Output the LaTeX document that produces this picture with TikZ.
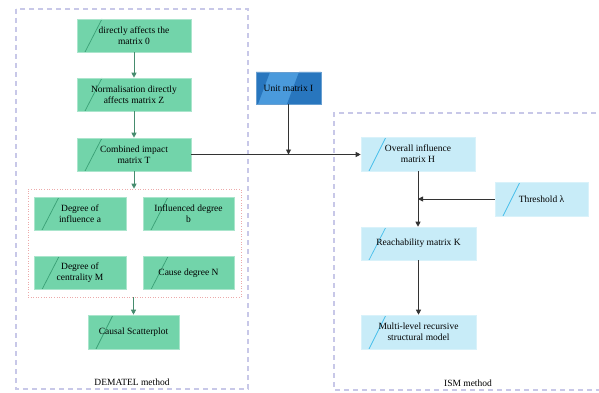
\documentclass[tikz,border=0pt]{standalone}
\usepackage{fontspec}
\setmainfont{Liberation Serif}
\usetikzlibrary{arrows.meta,calc}
\definecolor{gfill}{RGB}{114,212,170}
\definecolor{gline}{RGB}{58,160,118}
\definecolor{garrow}{RGB}{70,140,110}
\definecolor{bfill}{RGB}{74,154,220}
\definecolor{bdark}{RGB}{40,118,190}
\definecolor{cfill}{RGB}{200,236,248}
\definecolor{cline}{RGB}{70,190,235}
\definecolor{lav}{RGB}{200,200,232}
\definecolor{pinkdot}{RGB}{236,170,170}
\begin{document}
\begin{tikzpicture}[x=1pt,y=-1pt,
  font=\fontsize{9.5}{11}\selectfont,
  gbox/.style={draw=gfill!60!white,line width=0.6pt,fill=gfill,minimum height=33pt,align=center,inner sep=1pt,
    path picture={\draw[gline,line width=0.7pt] ([xshift=8pt]path picture bounding box.south west) -- ([xshift=25pt]path picture bounding box.north west);}},
  cbox/.style={draw=cfill!70!white,line width=0.6pt,fill=cfill,minimum height=33pt,align=center,inner sep=1pt,
    path picture={\draw[cline,line width=0.7pt] ([xshift=8pt]path picture bounding box.south west) -- ([xshift=25pt]path picture bounding box.north west);}},
  bbox/.style={draw=bdark!70!white,line width=0.6pt,fill=bfill,minimum height=32pt,align=center,inner sep=1pt,
    path picture={
      \fill[bdark] (path picture bounding box.north west) -- ([xshift=14pt]path picture bounding box.north west) -- ([xshift=2pt]path picture bounding box.south west) -- (path picture bounding box.south west) -- cycle;
      \fill[bdark] (path picture bounding box.north east) -- ([xshift=-22pt]path picture bounding box.north east) -- ([xshift=-34pt]path picture bounding box.south east) -- (path picture bounding box.south east) -- cycle;}},
  container/.style={draw=lav,line width=1.1pt,dash pattern=on 5pt off 4pt},
  garr/.style={draw=garrow,line width=0.9pt,-{Triangle[length=5pt,width=5pt]}},
  karr/.style={draw=black!80,line width=0.9pt,-{Triangle[length=5pt,width=5pt]}}
]
\useasboundingbox (0,0) rectangle (599,393);
\fill[white] (0,0) rectangle (599,393);
% containers
\draw[container] (16,9) rectangle (248,389);
\draw[container] (605,113) -- (334,113) -- (334,390) -- (605,390);
\node (demlabel) at (132,382) {DEMATEL method};
\node (ismlabel) at (468,383) {ISM method};
% DEMATEL nodes
\node[gbox,minimum width=114pt] (b1) at (134,35.5) {directly affects the\\matrix 0};
\node[gbox,minimum width=114pt] (b2) at (134,94.5) {Normalisation directly\\affects matrix Z};
\node[gbox,minimum width=114pt] (b3) at (134,154.5) {Combined impact\\matrix T};
\node[draw=pinkdot,dotted,line width=0.6pt,minimum width=213pt,minimum height=108pt,inner sep=0pt] (grp) at (134.5,243) {};
\node[gbox,minimum width=92pt] (ba) at (80,213.5) {Degree of\\influence a};
\node[gbox,minimum width=91pt] (bb) at (188.5,213.5) {Influenced degree\\b};
\node[gbox,minimum width=92pt] (bm) at (80,273) {Degree of\\centrality M};
\node[gbox,minimum width=91pt] (bn) at (188.5,273) {Cause degree N};
\node[gbox,minimum width=91pt,minimum height=34pt] (bc) at (133.5,332) {Causal Scatterplot};
% Unit matrix
\node[bbox,minimum width=65pt] (unit) at (288.5,88) {Unit matrix I};
% ISM nodes
\node[cbox,minimum width=114pt,minimum height=34pt] (oh) at (418,154) {Overall influence\\matrix H};
\node[cbox,minimum width=93pt,minimum height=34pt] (th) at (541.5,199) {Threshold \symbol{"03BB}};
\node[cbox,minimum width=115pt] (rk) at (418.5,243.5) {Reachability matrix K};
\node[cbox,minimum width=115pt,minimum height=34pt] (ml) at (418.5,332) {Multi-level recursive\\structural model};
% connectors
\draw[garr] (b1) -- (b2);
\draw[garr] (b2) -- (b3);
\draw[garr] (b3) -- (b3.south |- grp.north);
\draw[garr] (grp.south -| bc.north) -- (bc);
\draw[karr] (b3.east) -- (b3.east -| oh.west);
\coordinate (j1) at (unit.south |- b3.east);
\draw[karr] (unit) -- (j1);
\coordinate (j2) at (oh.south |- th.west);
\draw[karr] (th) -- (j2);
\draw[karr] (oh.south) -- (oh.south |- rk.north);
\draw[karr] (rk) -- (ml);
\end{tikzpicture}
\end{document}
